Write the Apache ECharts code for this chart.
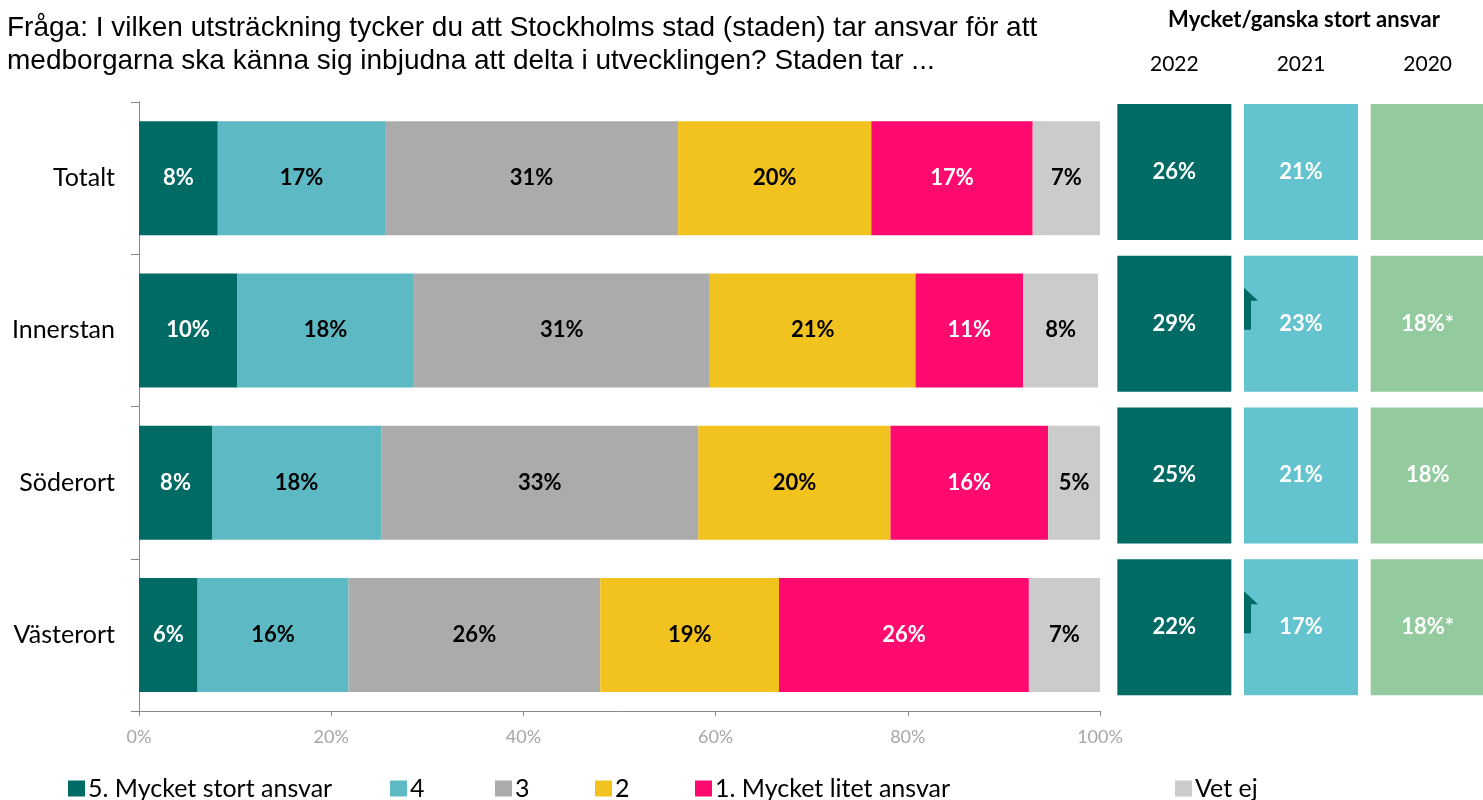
<!DOCTYPE html>
<html>
<head>
<meta charset="utf-8">
<script src="https://cdn.jsdelivr.net/npm/echarts@6/dist/echarts.min.js"></script>
<style>
  html, body { margin: 0; padding: 0; background: #fff; overflow: hidden; }
  #main { width: 1500px; height: 800px; }
</style>
</head>
<body>
<div id="main"></div>
<script>
//数据
var categories = ['Totalt', 'Innerstan', 'Söderort', 'Västerort'];
var seriesNames = ['5. Mycket stort ansvar', '4', '3', '2', '1. Mycket litet ansvar', 'Vet ej'];
var mycketStort = [8.2, 10.2, 7.6, 6.1];
var fyra = [17.4, 18.4, 17.6, 15.7];
var tre = [30.5, 30.8, 33.0, 26.2];
var tva = [20.1, 21.4, 20.0, 18.6];
var mycketLitet = [16.8, 11.2, 16.4, 26.0];
var vetEj = [7.0, 7.8, 5.4, 7.4];

//右侧：Mycket/ganska stort ansvar
var years = ['2022', '2021', '2020'];
var andel2022 = [26, 29, 25, 22];
var andel2021 = [21, 23, 21, 17];
var andel2020 = [null, 18, 18, 18];
var stjarna2020 = ['', '*', '', '*'];
var okning2021 = [false, true, false, true];

var barColors = ['#006A64', '#5DBAC5', '#ABABAB', '#F2C31E', '#FF0A6E', '#CBCBCB'];
var labelColors = ['#fff', '#000', '#000', '#000', '#fff', '#000'];
var cellColors = ['#006A64', '#63C3CF', '#93CA9E'];
var legendLeft = [63, 385, 490, 590, 690, 1170];

var myChart = echarts.init(document.getElementById('main'));

var seriesValues = [mycketStort, fyra, tre, tva, mycketLitet, vetEj];
var series = seriesValues.map(function (vals, i) {
  return {
    name: seriesNames[i],
    type: 'bar',
    stack: 'total',
    barWidth: 114,
    xAxisIndex: 0,
    yAxisIndex: 0,
    itemStyle: { color: barColors[i] },
    label: {
      show: true,
      position: 'inside',
      color: labelColors[i],
      fontFamily: 'Lato',
      fontWeight: 'bold',
      fontSize: 22,
      formatter: function (p) { return Math.round(p.value) + '%'; }
    },
    data: vals
  };
});

// 右侧方块数据
var cellData = [];
var cellText = [];
var cellArrow = [];
[andel2022, andel2021, andel2020].forEach(function (vals, col) {
  vals.forEach(function (v, row) {
    cellData.push([col, row, v == null ? 0 : v]);
    var t = v == null ? '' : v + '%';
    if (col === 2 && v != null) t += stjarna2020[row];
    cellText.push(t);
    cellArrow.push(col === 1 && okning2021[row]);
  });
});

function renderCell(params, api) {
  var c = api.coord([api.value(0), api.value(1)]);
  var w = 114, h = 136;
  var x = c[0] - w / 2, y = c[1] - h / 2;
  var children = [{
    type: 'rect',
    shape: { x: x, y: y, width: w, height: h },
    style: { fill: cellColors[api.value(0)] }
  }, {
    type: 'text',
    style: {
      text: cellText[params.dataIndex],
      x: c[0], y: c[1],
      align: 'center', verticalAlign: 'middle',
      fill: '#fff',
      font: 'bold 22px Lato'
    }
  }];
  if (cellArrow[params.dataIndex]) {
    children.push({
      type: 'polygon',
      shape: { points: [[x, c[1] - 36], [x + 14, c[1] - 23], [x + 7, c[1] - 23], [x + 7, c[1] + 6], [x, c[1] + 6]] },
      style: { fill: '#006A64' }
    });
  }
  return { type: 'group', children: children };
}

series.push({
  type: 'custom',
  xAxisIndex: 1,
  yAxisIndex: 1,
  renderItem: renderCell,
  encode: { x: 0, y: 1 },
  data: cellData
});

var legends = seriesNames.map(function (n, i) {
  return {
    data: [n],
    left: legendLeft[i],
    top: 771,
    icon: 'rect',
    itemWidth: 17,
    itemHeight: 16,
    itemGap: 0,
    textStyle: { fontFamily: 'Lato', fontSize: 25, color: '#000', padding: [0, 0, 0, -2] }
  };
});

var option = {
  animation: false,
  title: [{
    text: 'Fråga: I vilken utsträckning tycker du att Stockholms stad (staden) tar ansvar för att\nmedborgarna ska känna sig inbjudna att delta i utvecklingen? Staden tar ...',
    left: 2,
    top: 7,
    textStyle: { fontFamily: 'Liberation Sans', fontSize: 28, fontWeight: 'normal', color: '#000', lineHeight: 33 }
  }, {
    text: 'Mycket/ganska stort ansvar',
    left: 1299,
    textAlign: 'center',
    top: 4,
    textStyle: { fontFamily: 'Lato', fontSize: 22, fontWeight: 'bold', color: '#000' }
  }],
  legend: legends,
  grid: [
    { left: 139, width: 961, top: 102, bottom: 89 },
    { left: 1111, width: 380, top: 96, bottom: 97 }
  ],
  xAxis: [{
    type: 'value',
    gridIndex: 0,
    min: 0,
    max: 100,
    interval: 20,
    axisLine: { show: true, lineStyle: { color: '#888' } },
    axisTick: { show: true, length: 5, lineStyle: { color: '#888' } },
    splitLine: { show: false },
    axisLabel: { formatter: '{value}%', color: '#A6A6A6', fontFamily: 'Lato', fontSize: 18, margin: 17 }
  }, {
    type: 'category',
    gridIndex: 1,
    position: 'top',
    data: years,
    axisLine: { show: false },
    axisTick: { show: false },
    axisLabel: { color: '#000', fontFamily: 'Lato', fontSize: 21, margin: 21 }
  }],
  yAxis: [{
    type: 'category',
    gridIndex: 0,
    inverse: true,
    data: categories,
    axisLine: { show: true, lineStyle: { color: '#888' } },
    axisTick: { show: true, length: 8, lineStyle: { color: '#888' } },
    axisLabel: { color: '#000', fontFamily: 'Lato', fontSize: 25, margin: 24 }
  }, {
    type: 'category',
    gridIndex: 1,
    inverse: true,
    data: categories,
    show: false
  }],
  series: series
};

myChart.setOption(option);
</script>
</body>
</html>
